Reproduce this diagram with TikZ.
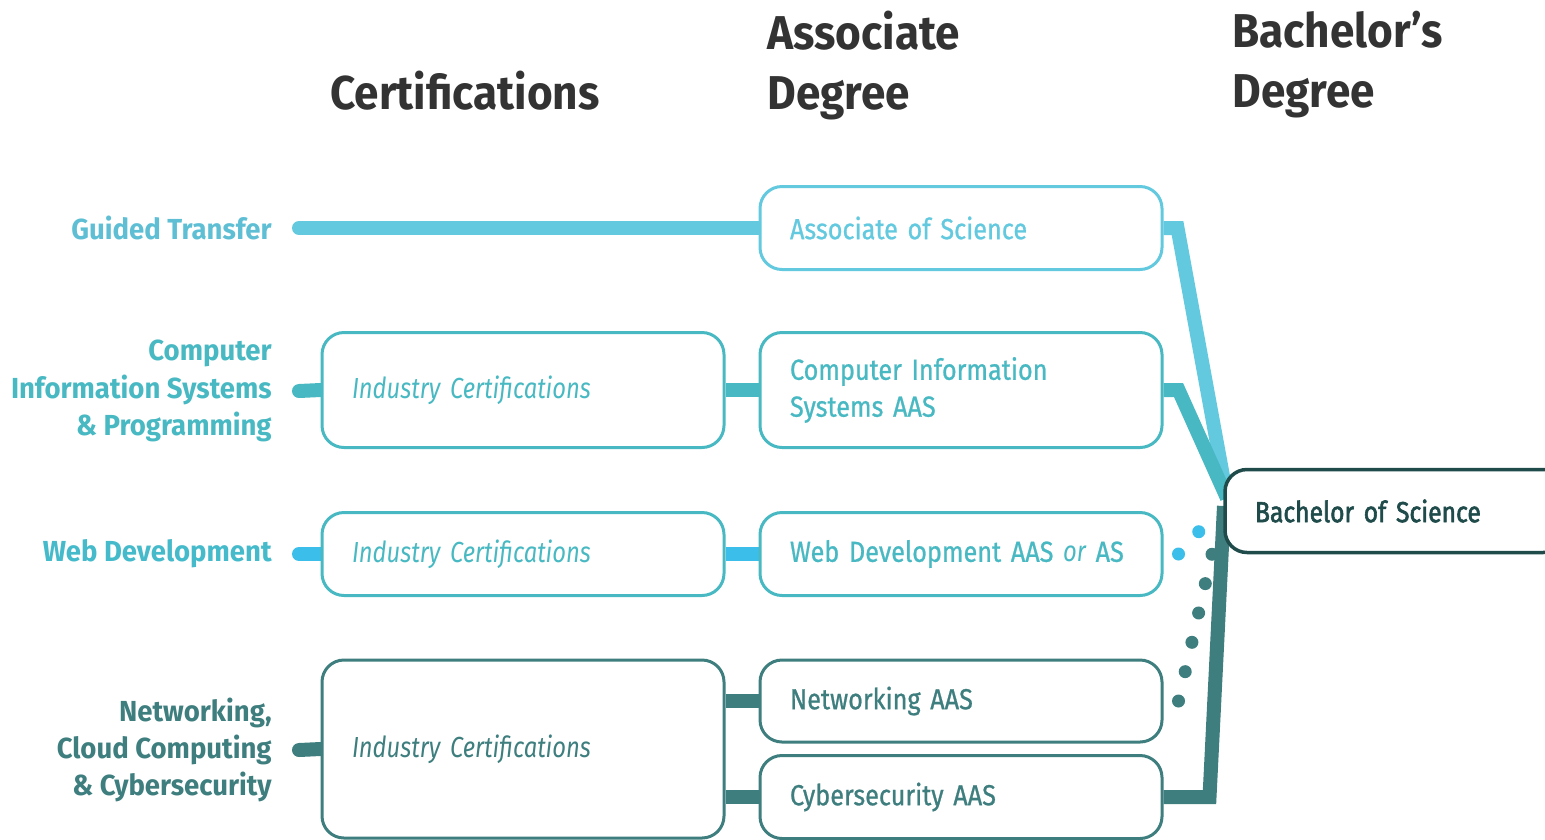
\documentclass[tikz,border=0pt]{standalone}
\usepackage{fontspec}
\setmainfont{Fira Sans}
\newfontfamily\narrowfont[FakeStretch=0.95]{Fira Sans}
\newfontfamily\headfont[FakeStretch=0.93]{Fira Sans}
\newfontfamily\boxfont[FakeStretch=0.87,FakeBold=0.8]{Fira Sans}
\newfontfamily\inkfont[FakeStretch=0.85,FakeBold=2]{Fira Sans}
\newfontfamily\certfont[FakeStretch=0.82]{Fira Sans}
\usepackage{tikz}
\usetikzlibrary{backgrounds}

\definecolor{sky}{HTML}{63C9DF}
\definecolor{aqua}{HTML}{48B9C2}
\definecolor{webblue}{HTML}{3BBFEA}
\definecolor{deepteal}{HTML}{3E7E7E}
\definecolor{ink}{HTML}{1F4B4B}
\definecolor{heading}{HTML}{333333}

\begin{document}
\begin{tikzpicture}[x=0.2mm,y=-0.2mm,
  box/.style={draw,rounded corners=4.4mm,line width=0.6mm,fill=white,
    text width=68.4mm,inner xsep=6mm,inner ysep=0pt,align=left,
    font=\boxfont\fontsize{16.5}{21}\selectfont},
  certbox/.style={box,font=\certfont\itshape\fontsize{16.5}{21}\selectfont},
  lbl/.style={anchor=east,align=right,inner sep=0pt,
    font=\narrowfont\bfseries\fontsize{16.5}{21.3}\selectfont},
  head/.style={anchor=north west,align=left,inner sep=0pt,text=heading,
    font=\headfont\bfseries\fontsize{27}{34}\selectfont},
  wire/.style={line width=2.8mm,line join=miter},
  stub/.style={wire,line cap=round},
  dots/.style={line width=2.6mm,line cap=round,dash pattern=on 0pt off 6.02mm}]
\useasboundingbox (0,0) rectangle (1545,839);

\node[head] (hcert) at (330,71) {Certifications};
\node[head] (hassoc) at (767,11) {Associate\\Degree};
\node[head] (hbach) at (1232,11) {Bachelor’s\\Degree};

\node[lbl,text=sky!95!black] (gtlbl) at (272,228) {Guided Transfer};
\node[lbl,text=aqua] (cislbl) at (272,391) {Computer\\Information Systems\\\& Programming};
\node[lbl,text=aqua!80!webblue] (weblbl) at (272,554) {Web Development};
\node[lbl,text=deepteal] (netlbl) at (272,750) {Networking,\\Cloud Computing\\\& Cybersecurity};

\node[box,draw=sky,text=sky,minimum height=16.6mm] (as) at (961,228) {Associate of Science};
\node[certbox,draw=aqua,text=aqua,minimum height=23mm] (cert2) at (523,390) {Industry Certifications};
\node[box,draw=aqua,text=aqua,minimum height=23mm] (cis) at (961,390) {Computer Information\\Systems AAS};
\node[certbox,draw=aqua,text=aqua,minimum height=16.6mm] (cert3) at (523,554) {Industry Certifications};
\node[box,draw=aqua,text=aqua,minimum height=16.6mm] (web) at (961,554) {Web Development AAS {\certfont\itshape or} AS};
\node[certbox,draw=deepteal,text=deepteal,minimum height=35.6mm] (cert4) at (523,749) {Industry Certifications};
\node[box,draw=deepteal,text=deepteal,minimum height=16.4mm] (net) at (961,701) {Networking AAS};
\node[box,draw=deepteal,text=deepteal,minimum height=16.6mm] (cyber) at (961,797) {Cybersecurity AAS};

\node[box,draw=ink,text=ink,line width=0.7mm,text width=56mm,minimum height=16.6mm,
  font=\inkfont\fontsize{16.5}{21}\selectfont] (bs) at (1395,511) {Bachelor of Science};

\coordinate (hub) at (1227,498);
\coordinate (hubdark) at (1224,506);
\coordinate (webend) at (1203,527);
\coordinate (netend) at (1218,528);

\begin{pgfonlayer}{background}
\draw[stub,sky] ([xshift=5.4mm]gtlbl.east) -- (as.west);
\draw[stub,aqua] ([xshift=5.4mm]cislbl.east) -- (cert2.west);
\draw[wire,aqua] (cert2.east) -- (cis.west);
\draw[stub,webblue] ([xshift=5.4mm]weblbl.east) -- (cert3.west);
\draw[wire,webblue] (cert3.east) -- (web.west);
\draw[stub,deepteal] ([xshift=5.4mm]netlbl.east) -- (cert4.west);
\draw[wire,deepteal] (cert4.east |- net.west) -- (net.west);
\draw[wire,deepteal] (cert4.east |- cyber.west) -- (cyber.west);

\draw[wire,sky] (as.east) -- ++(14,0) -- (hub);
\draw[wire,aqua] (cis.east) -- ++(15,0) -- (hub);
\draw[wire,deepteal] (cyber.east) -- ++(46,0) -- (hubdark);
\draw[dots,webblue] ([xshift=3mm]web.east) -- (webend);
\draw[dots,deepteal] ([xshift=3mm]net.east) -- (netend);
\end{pgfonlayer}

\end{tikzpicture}
\end{document}
